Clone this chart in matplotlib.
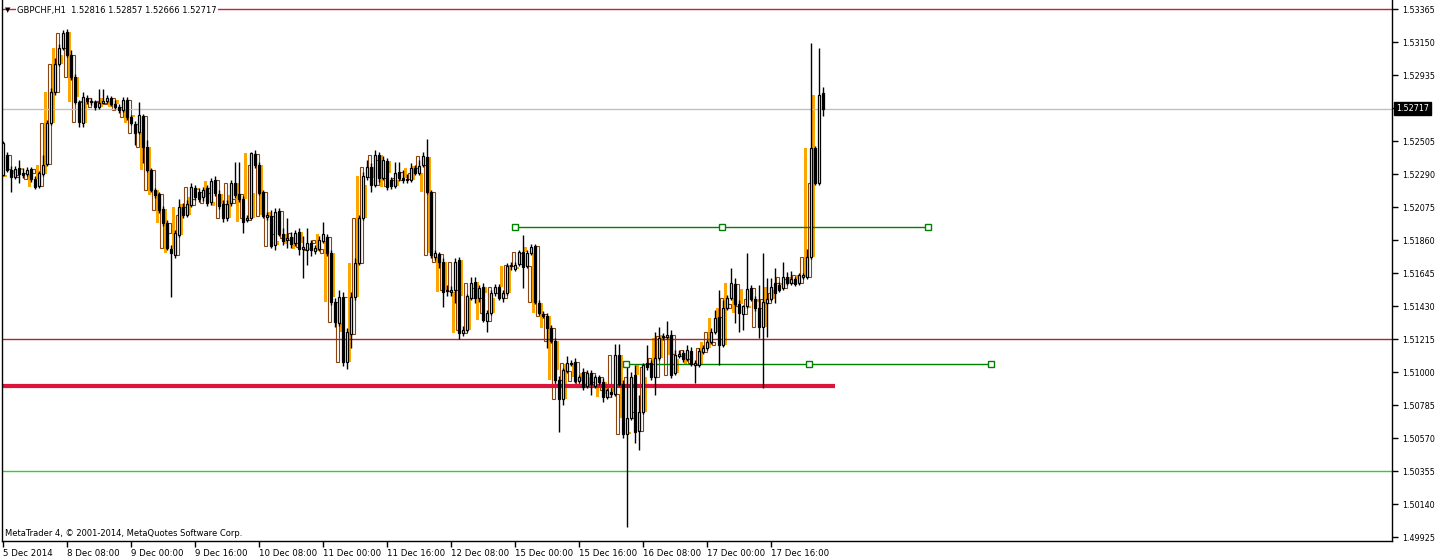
import matplotlib
matplotlib.use('Agg')
import matplotlib.pyplot as plt
from matplotlib.patches import Rectangle
import numpy as np

# GBPCHF H1 bars, 5 Dec 2014 16:00 .. 18 Dec 2014 05:00
opens = [
    1.52284, 1.52414, 1.52316, 1.52271, 1.52330, 1.52297, 1.52290, 1.52323, 1.52258, 1.52212,
    1.52290, 1.52356, 1.52623, 1.52825, 1.53007, 1.53111, 1.53215, 1.53066, 1.52922, 1.52760,
    1.52623, 1.52786, 1.52766, 1.52760, 1.52727, 1.52753, 1.52766, 1.52786, 1.52746, 1.52727,
    1.52707, 1.52773, 1.52662, 1.52616, 1.52564, 1.52668, 1.52466, 1.52316, 1.52186, 1.52160,
    1.52062, 1.51971, 1.51802, 1.51763, 1.51893, 1.52075, 1.52023, 1.52088, 1.52199, 1.52173,
    1.52141, 1.52199, 1.52108, 1.52251, 1.52160, 1.52095, 1.52004, 1.52102, 1.52232, 1.52160,
    1.52128, 1.51991, 1.52004, 1.52421, 1.52349, 1.52173, 1.52010, 1.52017, 1.51828, 1.52049,
    1.51900, 1.51860, 1.51880, 1.51841, 1.51913, 1.51802, 1.51795, 1.51841, 1.51789, 1.51802,
    1.51854, 1.51880, 1.51776, 1.51456, 1.51320, 1.51489, 1.51066, 1.51248, 1.51489, 1.51711,
    1.52004, 1.52271, 1.52336, 1.52219, 1.52414, 1.52264, 1.52375, 1.52251, 1.52212, 1.52303,
    1.52264, 1.52258, 1.52251, 1.52330, 1.52297, 1.52349, 1.52401, 1.52173, 1.51750, 1.51769,
    1.51717, 1.51528, 1.51522, 1.51535, 1.51730, 1.51255, 1.51274, 1.51483, 1.51587, 1.51483,
    1.51554, 1.51333, 1.51385, 1.51515, 1.51554, 1.51483, 1.51515, 1.51691, 1.51671, 1.51704,
    1.51782, 1.51691, 1.51776, 1.51821, 1.51450, 1.51378, 1.51365, 1.51287, 1.51202, 1.50948,
    1.50825, 1.51007, 1.51059, 1.51066, 1.50942, 1.51000, 1.50909, 1.50994, 1.50909, 1.50968,
    1.50935, 1.50837, 1.50870, 1.50857, 1.51111, 1.50922, 1.50596, 1.50701, 1.50981, 1.50616,
    1.50740, 1.51059, 1.51059, 1.50968, 1.51092, 1.51228, 1.51228, 1.51242, 1.50994, 1.51105,
    1.51124, 1.51085, 1.51137, 1.51046, 1.51046, 1.51131, 1.51157, 1.51196, 1.51261, 1.51359,
    1.51176, 1.51417, 1.51483, 1.51574, 1.51443, 1.51378, 1.51430, 1.51548, 1.51476, 1.51417,
    1.51294, 1.51450, 1.51476, 1.51580, 1.51567, 1.51548, 1.51619, 1.51580, 1.51606, 1.51580,
    1.51619, 1.51619, 1.51750, 1.52460, 1.52232, 1.52816,
]
highs = [
    1.52505, 1.52434, 1.52342, 1.52342, 1.52382, 1.52330, 1.52336, 1.52336, 1.52277, 1.52310,
    1.52414, 1.52642, 1.52851, 1.53046, 1.53137, 1.53229, 1.53235, 1.53098, 1.52942, 1.52773,
    1.52825, 1.52805, 1.52786, 1.52773, 1.52844, 1.52844, 1.52805, 1.52799, 1.52773, 1.52746,
    1.52792, 1.52792, 1.52675, 1.52636, 1.52760, 1.52681, 1.52512, 1.52330, 1.52199, 1.52173,
    1.52082, 1.51991, 1.51828, 1.51926, 1.52128, 1.52102, 1.52121, 1.52232, 1.52219, 1.52199,
    1.52206, 1.52219, 1.52264, 1.52277, 1.52186, 1.52121, 1.52121, 1.52251, 1.52369, 1.52369,
    1.52147, 1.52023, 1.52434, 1.52447, 1.52369, 1.52186, 1.52043, 1.52056, 1.52069, 1.52069,
    1.51939, 1.52004, 1.51913, 1.51926, 1.51939, 1.51886, 1.51939, 1.51860, 1.51828, 1.51886,
    1.51978, 1.51900, 1.51795, 1.51483, 1.51535, 1.51522, 1.51287, 1.51522, 1.51743, 1.52023,
    1.52303, 1.52382, 1.52362, 1.52447, 1.52434, 1.52408, 1.52395, 1.52271, 1.52369, 1.52369,
    1.52316, 1.52290, 1.52362, 1.52349, 1.52382, 1.52434, 1.52518, 1.52186, 1.51795, 1.51782,
    1.51743, 1.51567, 1.51561, 1.51743, 1.51750, 1.51300, 1.51509, 1.51619, 1.51619, 1.51567,
    1.51580, 1.51404, 1.51535, 1.51574, 1.51574, 1.51535, 1.51711, 1.51717, 1.51717, 1.51795,
    1.51893, 1.51795, 1.51834, 1.51834, 1.51470, 1.51398, 1.51385, 1.51307, 1.51222, 1.50974,
    1.51026, 1.51105, 1.51079, 1.51092, 1.50981, 1.51026, 1.51013, 1.51013, 1.50981, 1.50981,
    1.50961, 1.50896, 1.50896, 1.51183, 1.51183, 1.50948, 1.51046, 1.51000, 1.51046, 1.50851,
    1.51059, 1.51176, 1.51079, 1.51261, 1.51294, 1.51255, 1.51333, 1.51274, 1.51144, 1.51144,
    1.51144, 1.51176, 1.51163, 1.51079, 1.51157, 1.51176, 1.51209, 1.51287, 1.51404, 1.51535,
    1.51470, 1.51502, 1.51678, 1.51613, 1.51470, 1.51437, 1.51776, 1.51567, 1.51496, 1.51567,
    1.51776, 1.51613, 1.51613, 1.51678, 1.51587, 1.51717, 1.51652, 1.51658, 1.51619, 1.51645,
    1.51645, 1.51802, 1.53144, 1.52473, 1.53111, 1.52857,
]
lows = [
    1.52277, 1.52303, 1.52173, 1.52258, 1.52232, 1.52264, 1.52277, 1.52238, 1.52193, 1.52199,
    1.52277, 1.52342, 1.52610, 1.52805, 1.52994, 1.53098, 1.53053, 1.52903, 1.52746, 1.52597,
    1.52597, 1.52746, 1.52740, 1.52707, 1.52714, 1.52746, 1.52753, 1.52733, 1.52714, 1.52688,
    1.52694, 1.52642, 1.52610, 1.52479, 1.52551, 1.52362, 1.52303, 1.52173, 1.52134, 1.52036,
    1.51952, 1.51795, 1.51489, 1.51743, 1.51880, 1.52004, 1.52010, 1.52075, 1.52121, 1.52108,
    1.52115, 1.52082, 1.52088, 1.52147, 1.52062, 1.51978, 1.51984, 1.52082, 1.52134, 1.52108,
    1.51906, 1.51978, 1.51997, 1.52330, 1.52154, 1.52004, 1.51991, 1.51808, 1.51795, 1.51886,
    1.51828, 1.51808, 1.51808, 1.51821, 1.51763, 1.51613, 1.51698, 1.51756, 1.51769, 1.51789,
    1.51841, 1.51756, 1.51437, 1.51294, 1.51300, 1.51040, 1.51020, 1.51157, 1.51470, 1.51698,
    1.51991, 1.52251, 1.52173, 1.52206, 1.52238, 1.52251, 1.52186, 1.52193, 1.52199, 1.52245,
    1.52232, 1.52232, 1.52238, 1.52284, 1.52284, 1.52336, 1.52160, 1.51743, 1.51730, 1.51678,
    1.51424, 1.51496, 1.51496, 1.51450, 1.51215, 1.51235, 1.51261, 1.51470, 1.51450, 1.51456,
    1.51326, 1.51261, 1.51372, 1.51496, 1.51470, 1.51456, 1.51502, 1.51665, 1.51658, 1.51691,
    1.51548, 1.51678, 1.51763, 1.51443, 1.51372, 1.51352, 1.51157, 1.51189, 1.50929, 1.50610,
    1.50785, 1.50994, 1.51040, 1.50929, 1.50929, 1.50883, 1.50896, 1.50851, 1.50896, 1.50916,
    1.50805, 1.50825, 1.50837, 1.50844, 1.50909, 1.50570, 1.49991, 1.50688, 1.50538, 1.50492,
    1.50727, 1.51013, 1.50948, 1.50851, 1.51079, 1.51209, 1.51215, 1.50961, 1.50981, 1.51092,
    1.51066, 1.51072, 1.51040, 1.50929, 1.51033, 1.51118, 1.51144, 1.51183, 1.51248, 1.51046,
    1.51163, 1.51404, 1.51470, 1.51320, 1.51261, 1.51274, 1.51417, 1.51463, 1.51398, 1.51222,
    1.50896, 1.51228, 1.51463, 1.51450, 1.51522, 1.51535, 1.51567, 1.51567, 1.51561, 1.51567,
    1.51606, 1.51606, 1.51737, 1.52219, 1.52219, 1.52666,
]
closes = [
    1.52492, 1.52316, 1.52271, 1.52323, 1.52290, 1.52284, 1.52316, 1.52258, 1.52206, 1.52297,
    1.52349, 1.52623, 1.52825, 1.53007, 1.53111, 1.53209, 1.53066, 1.52922, 1.52760, 1.52629,
    1.52792, 1.52766, 1.52760, 1.52727, 1.52753, 1.52766, 1.52786, 1.52746, 1.52727, 1.52707,
    1.52773, 1.52662, 1.52623, 1.52558, 1.52675, 1.52466, 1.52316, 1.52186, 1.52154, 1.52056,
    1.51971, 1.51808, 1.51776, 1.51906, 1.52075, 1.52023, 1.52095, 1.52206, 1.52141, 1.52128,
    1.52186, 1.52102, 1.52245, 1.52167, 1.52082, 1.52004, 1.52095, 1.52232, 1.52154, 1.52128,
    1.51978, 1.52004, 1.52427, 1.52349, 1.52167, 1.52017, 1.52023, 1.51821, 1.52043, 1.51900,
    1.51854, 1.51873, 1.51834, 1.51906, 1.51802, 1.51815, 1.51841, 1.51795, 1.51808, 1.51860,
    1.51900, 1.51776, 1.51456, 1.51326, 1.51489, 1.51066, 1.51261, 1.51489, 1.51711, 1.52004,
    1.52277, 1.52336, 1.52219, 1.52414, 1.52264, 1.52382, 1.52206, 1.52212, 1.52297, 1.52264,
    1.52251, 1.52251, 1.52330, 1.52297, 1.52342, 1.52408, 1.52173, 1.51763, 1.51776, 1.51717,
    1.51522, 1.51535, 1.51535, 1.51717, 1.51255, 1.51274, 1.51496, 1.51580, 1.51483, 1.51548,
    1.51339, 1.51385, 1.51515, 1.51554, 1.51483, 1.51515, 1.51691, 1.51698, 1.51698, 1.51782,
    1.51685, 1.51776, 1.51815, 1.51456, 1.51385, 1.51365, 1.51287, 1.51202, 1.50948, 1.50825,
    1.51013, 1.51059, 1.51053, 1.50942, 1.50968, 1.50903, 1.50994, 1.50922, 1.50968, 1.50935,
    1.50837, 1.50883, 1.50857, 1.51111, 1.50922, 1.50596, 1.50701, 1.50968, 1.50610, 1.50740,
    1.51046, 1.51033, 1.50968, 1.51092, 1.51222, 1.51235, 1.51242, 1.50981, 1.51111, 1.51118,
    1.51085, 1.51144, 1.51053, 1.51059, 1.51137, 1.51157, 1.51196, 1.51261, 1.51352, 1.51176,
    1.51417, 1.51483, 1.51580, 1.51443, 1.51385, 1.51430, 1.51541, 1.51476, 1.51417, 1.51294,
    1.51456, 1.51476, 1.51554, 1.51515, 1.51535, 1.51619, 1.51580, 1.51606, 1.51574, 1.51632,
    1.51632, 1.51750, 1.52460, 1.52232, 1.52805, 1.52717,
]

time_labels = ['5 Dec 2014', '8 Dec 08:00', '9 Dec 00:00', '9 Dec 16:00', '10 Dec 08:00',
               '11 Dec 00:00', '11 Dec 16:00', '12 Dec 08:00', '15 Dec 00:00', '15 Dec 16:00',
               '16 Dec 08:00', '17 Dec 00:00', '17 Dec 16:00']
label_bars = [0, 16, 32, 48, 64, 80, 96, 112, 128, 144, 160, 176, 192]
price_ticks = [1.53365, 1.53150, 1.52935, 1.52720, 1.52505, 1.52290, 1.52075, 1.51860,
               1.51645, 1.51430, 1.51215, 1.51000, 1.50785, 1.50570, 1.50355, 1.50140, 1.49925]

# objects on the chart
level_top = 1.53365
level_bid = 1.52717
level_mid = 1.51215
level_low = 1.50355
support = 1.50912
support_end = 208
trend1 = ([128.0, 179.6, 231.2], 1.51945)
trend2 = ([155.7, 201.5, 247.0], 1.51053)

o = np.array(opens)
h = np.array(highs)
l = np.array(lows)
c = np.array(closes)
n = len(c)
x = np.arange(n)

W, H = 1436, 559
fig = plt.figure(figsize=(W / 100, H / 100), dpi=100)
fig.patch.set_facecolor('white')
ax = fig.add_axes([2 / W, 18 / H, 1390 / W, 541 / H])
ax.set_xlim(-0.3, 347.2)
ax.set_ylim(1.49899, 1.53424)

# background overlay bars (built from neighbouring bars)
for i in range(1, n - 1, 2):
    lo = min(o[i - 1], c[i + 1])
    hi = max(o[i - 1], c[i + 1])
    ax.add_patch(Rectangle((i - 0.9, lo), 0.8, hi - lo, fc='#ffa500', ec='none', zorder=1))
for s in range(2, n - 2, 2):
    lo = min(o[s - 1], c[s + 1])
    hi = max(o[s - 1], c[s + 1])
    ax.add_patch(Rectangle((s - 0.85, lo), 0.75, hi - lo, fill=False, ec='#8b4513', lw=0.8,
                           zorder=1.5))

# horizontal levels
ax.axhline(level_top, color='#c8203c', lw=1, zorder=2)
ax.axhline(level_bid, color='#c0c0c0', lw=1, zorder=2)
ax.axhline(level_mid, color='#a52a2a', lw=1, zorder=2)
ax.axhline(level_low, color='#32cd32', lw=1, zorder=2)
ax.plot([-0.3, support_end], [support, support], color='#dc143c', lw=3, zorder=2.5,
        solid_capstyle='butt')

for xs, p in (trend1, trend2):
    ax.plot([xs[0], xs[-1]], [p, p], color='#008000', lw=1, zorder=2)
    ax.plot(xs, [p] * 3, ls='none', marker='s', ms=4, mfc='white', mec='#008000', mew=1, zorder=5)

# candles
ax.vlines(x, l, h, color='black', lw=1, zorder=3)
up = c >= o
body = np.maximum(np.abs(c - o), 0.00002)
ax.bar(x[up], body[up], bottom=o[up], width=0.55, color='white', edgecolor='black',
       linewidth=0.9, zorder=4)
ax.bar(x[~up], body[~up], bottom=c[~up], width=0.55, color='black', edgecolor='black',
       linewidth=0.9, zorder=4)

ax.spines['top'].set_visible(False)
for side in ('left', 'right', 'bottom'):
    ax.spines[side].set_color('black')
    ax.spines[side].set_linewidth(1)

ax.set_xticks(label_bars)
ax.set_xticklabels(time_labels, ha='left', fontsize=6.2)
ax.tick_params(axis='x', length=4, width=1, pad=2, direction='out')
ax.yaxis.tick_right()
ax.set_yticks(price_ticks)
ax.set_yticklabels(['' if abs(p - level_bid) < 0.0001 else '%.5f' % p for p in price_ticks],
                   fontsize=5.8)
ax.tick_params(axis='y', length=4, width=1, pad=3, direction='out')

# header, copyright and bid label
fig.text(5 / W, 1 - 10 / H, '\u25bc', fontsize=5, va='center', ha='left')
fig.text(17 / W, 1 - 10 / H, 'GBPCHF,H1  1.52816 1.52857 1.52666 1.52717', fontsize=6.0,
         va='center', ha='left', bbox=dict(fc='white', ec='none', pad=1))
ax.text(3 / 1390, 8 / 541, 'MetaTrader 4, \u00a9 2001-2014, MetaQuotes Software Corp.',
        transform=ax.transAxes, fontsize=6.0, va='center', ha='left')
fig.text(1396 / W, 1 - 108.5 / H, '%.5f' % level_bid, fontsize=5.8, color='white',
         va='center', ha='left', bbox=dict(fc='black', ec='black', pad=1.2), zorder=10)

fig.savefig('out.png', dpi=100, facecolor='white')
